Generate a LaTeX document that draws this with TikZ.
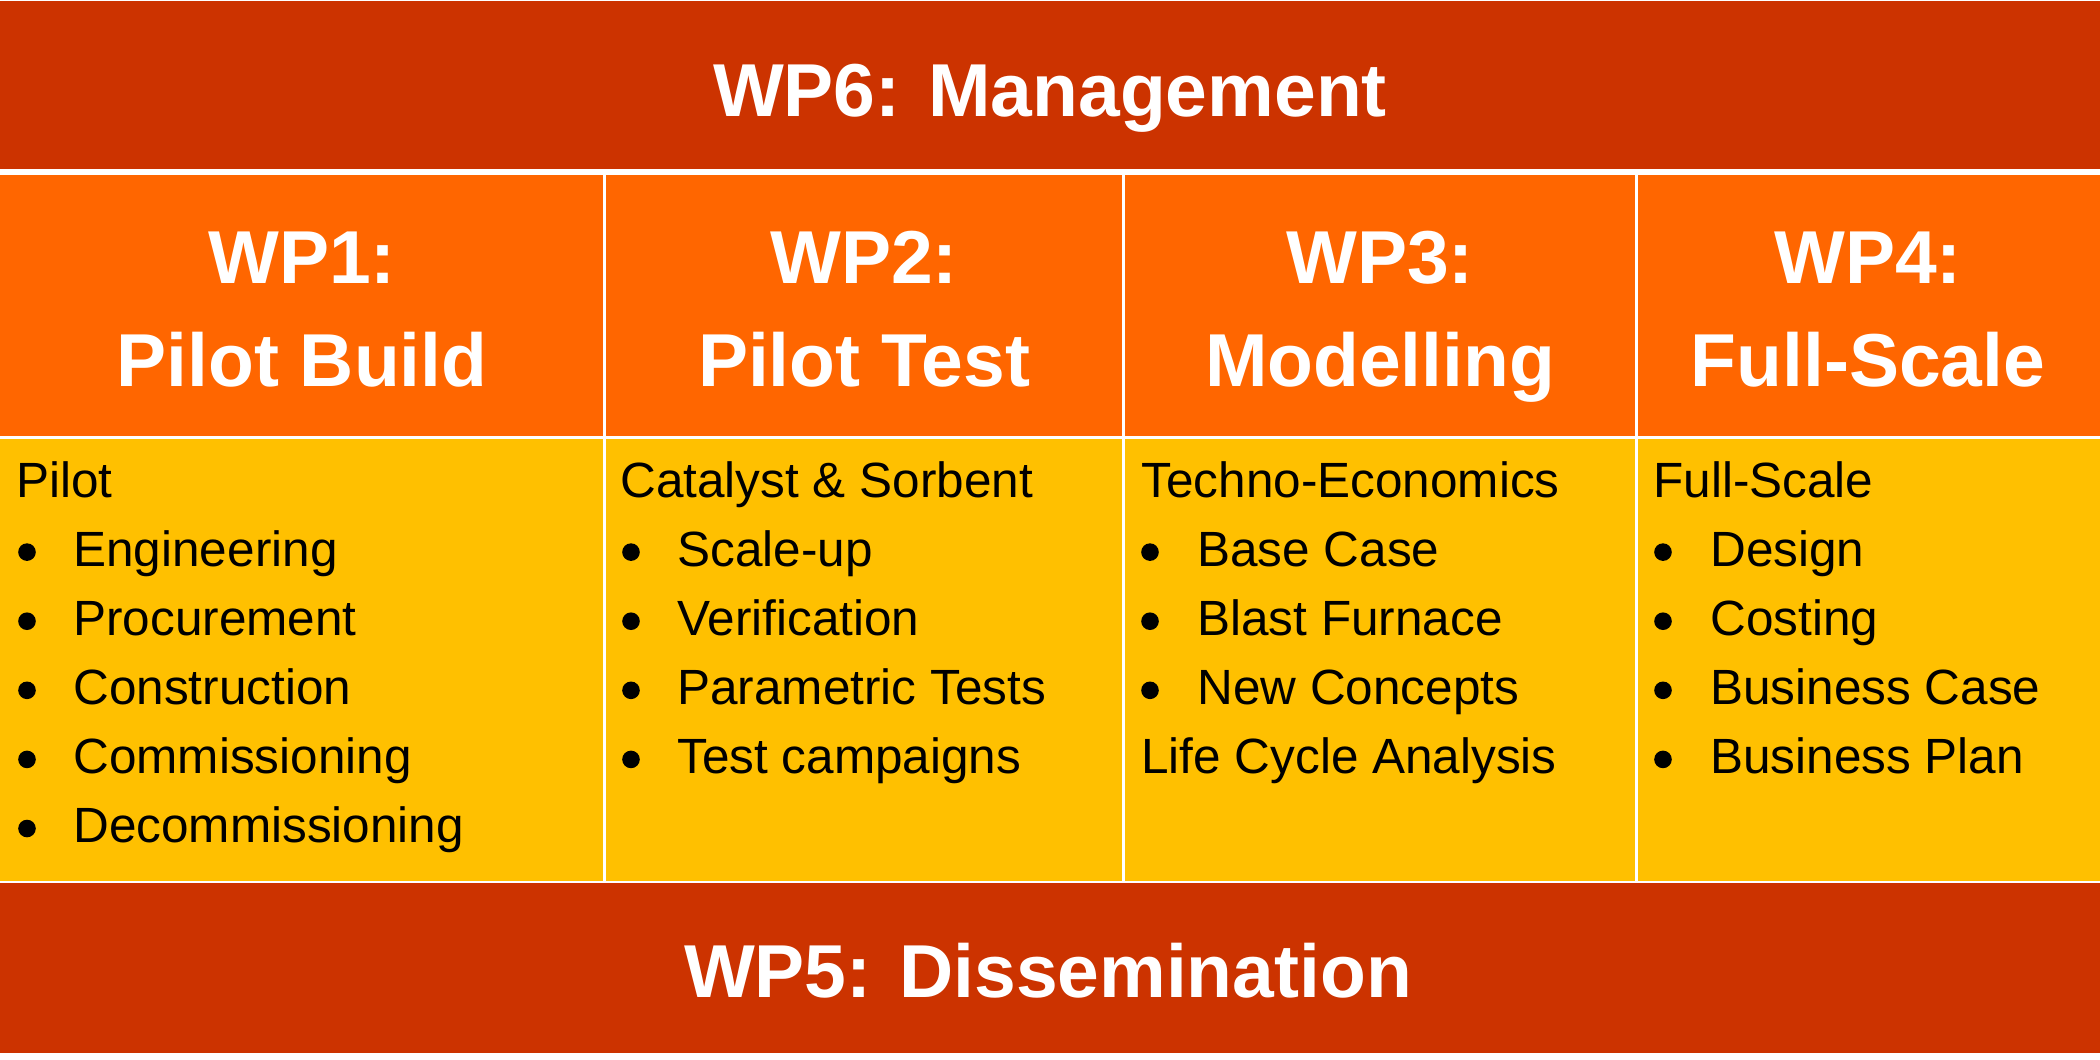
\documentclass[tikz,border=0pt]{standalone}
\usepackage{fontspec}
\setmainfont{Liberation Sans}
\definecolor{barred}{HTML}{CC3300}
\definecolor{hdorange}{HTML}{FF6600}
\definecolor{bodyyellow}{HTML}{FFC000}
\tikzset{
  cell/.style={anchor=north west, inner sep=0pt, outer sep=0pt, draw=none},
  hd/.style={anchor=base, inner sep=0pt, text=white, font=\fontsize{37.5}{45}\selectfont\bfseries},
  bd/.style={anchor=base west, inner sep=0pt, text=black, font=\fontsize{24.75}{30}\selectfont},
  dot/.style={circle, fill=black, inner sep=0pt, minimum size=8.8pt}
}
\begin{document}
\begin{tikzpicture}[x=0.5pt,y=-0.5pt]
\useasboundingbox[fill=white] (0,0) rectangle (2100,1060);
% bars
\node[cell, fill=barred, minimum width=1050pt, minimum height=84pt] (top) at (0,1) {};
\node[cell, fill=barred, minimum width=1050pt, minimum height=85pt] (bottom) at (0,883) {};
% header cells
\node[cell, fill=hdorange, minimum width=301.25pt, minimum height=130.5pt] (h1) at (0,175) {};
\node[cell, fill=hdorange, minimum width=258.25pt, minimum height=130.5pt] (h2) at (605.5,175) {};
\node[cell, fill=hdorange, minimum width=254.75pt, minimum height=130.5pt] (h3) at (1125,175) {};
\node[cell, fill=hdorange, minimum width=231.25pt, minimum height=130.5pt] (h4) at (1637.5,175) {};
% body cells
\node[cell, fill=bodyyellow, minimum width=301.25pt, minimum height=221pt] (b1) at (0,439) {};
\node[cell, fill=bodyyellow, minimum width=258.25pt, minimum height=221pt] (b2) at (605.5,439) {};
\node[cell, fill=bodyyellow, minimum width=254.75pt, minimum height=221pt] (b3) at (1125,439) {};
\node[cell, fill=bodyyellow, minimum width=231.25pt, minimum height=221pt] (b4) at (1637.5,439) {};
% bar titles
\node[hd] (t6) at (1050,116) {WP6: Management};
\node[hd] (t5) at (1048,997) {WP5: Dissemination};
% column titles
\node[hd] (w1a) at (302,283) {WP1:};
\node[hd] (w1b) at (302,386) {Pilot Build};
\node[hd] (w2a) at (864,283) {WP2:};
\node[hd] (w2b) at (864,386) {Pilot Test};
\node[hd] (w3a) at (1380,283) {WP3:};
\node[hd] (w3b) at (1380,386) {Modelling};
\node[hd] (w4a) at (1868,283) {WP4:};
\node[hd] (w4b) at (1868,386) {Full-Scale};
% column 1
\node[bd] (p1) at (16,497) {Pilot};
\foreach \t [count=\i] in {Engineering,Procurement,Construction,Commissioning,Decommissioning}{
  \node[dot] (d1\i) at (27,{497+69.1*\i-14}) {};
  \node[bd] (i1\i) at (73,{497+69.1*\i}) {\t};
}
% column 2
\node[bd] (p2) at (620,497) {Catalyst \& Sorbent};
\foreach \t [count=\i] in {Scale-up,Verification,Parametric Tests,Test campaigns}{
  \node[dot] (d2\i) at (631,{497+69.1*\i-14}) {};
  \node[bd] (i2\i) at (677,{497+69.1*\i}) {\t};
}
% column 3
\node[bd] (p3) at (1141,497) {Techno-Economics};
\foreach \t [count=\i] in {Base Case,Blast Furnace,New Concepts}{
  \node[dot] (d3\i) at (1150,{497+69.1*\i-14}) {};
  \node[bd] (i3\i) at (1197,{497+69.1*\i}) {\t};
}
\node[bd] (q3) at (1141,{497+69.1*4}) {Life Cycle Analysis};
% column 4
\node[bd] (p4) at (1653,497) {Full-Scale};
\foreach \t [count=\i] in {Design,Costing,Business Case,Business Plan}{
  \node[dot] (d4\i) at (1663,{497+69.1*\i-14}) {};
  \node[bd] (i4\i) at (1710,{497+69.1*\i}) {\t};
}
\end{tikzpicture}
\end{document}
